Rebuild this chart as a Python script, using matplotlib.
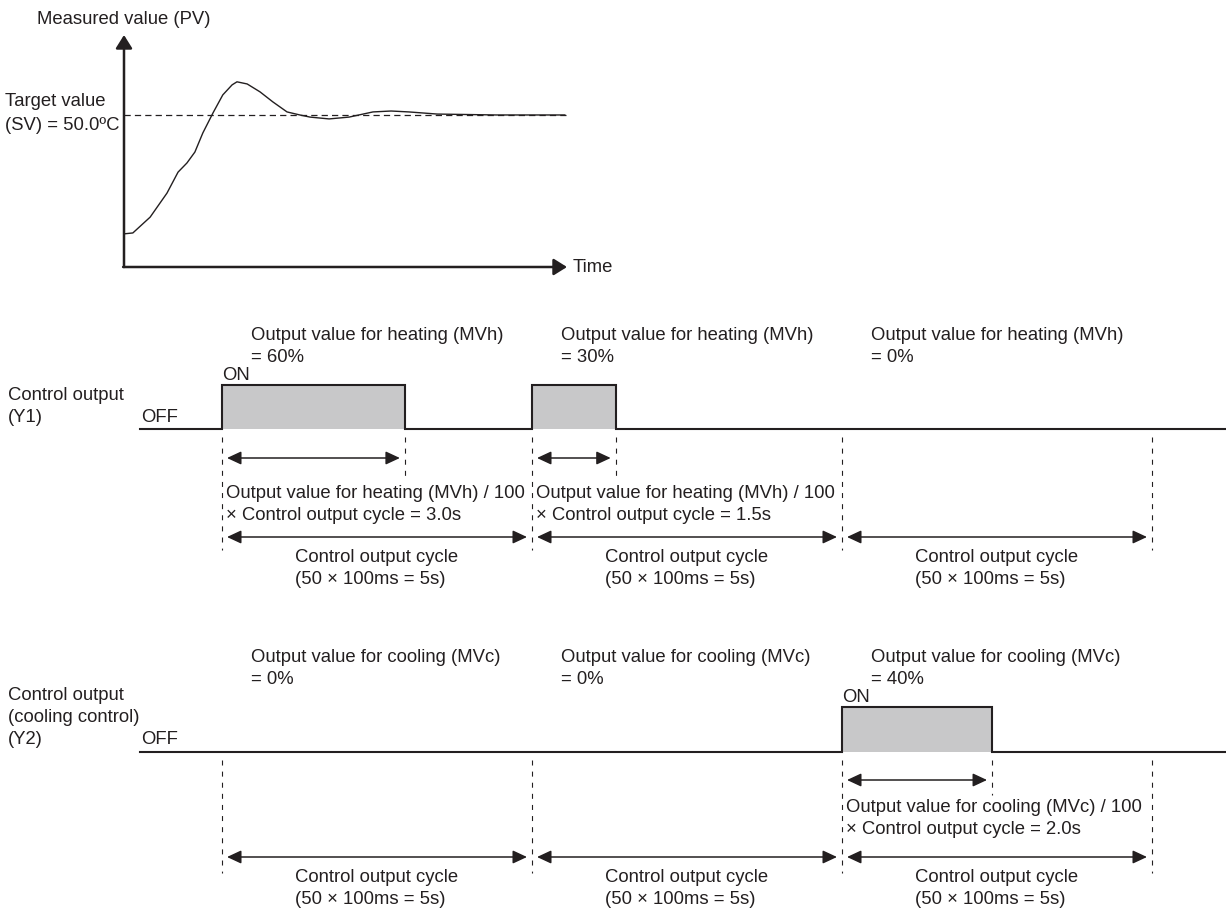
import numpy as np
import matplotlib
matplotlib.use('Agg')
import matplotlib.pyplot as plt
from matplotlib.patches import Rectangle

plt.rcParams['font.family'] = ['Liberation Sans', 'DejaVu Sans']

# ---------------- data ----------------
# Measured value (PV) response, time in arbitrary units (0-100), value in degC
pv_time = [0, 2.0, 5.9, 9.7, 12.2, 14.2, 16.0, 17.8, 20.1, 22.3, 24.4, 25.5, 27.8,
           30.7, 33.6, 36.8, 39.7, 42.0, 46.3, 50.8, 56.2, 60.3, 64.3, 70.7, 84.0, 99.5]
pv_value = [10.9, 11.2, 16.4, 24.3, 31.2, 34.2, 37.8, 44.1, 50.7, 56.6, 59.9, 60.9, 60.2,
            57.6, 54.3, 51.0, 50.0, 49.3, 48.7, 49.3, 51.0, 51.3, 51.0, 50.3, 50.0, 50.0]
sv_value = 50.0
pv_ymax = 76.3
pv_tmax = 100.0

cycle_s = 5.0
n_cycles = 3
heating_mv = ['60%', '30%', '0%']
cooling_mv = ['0%', '0%', '40%']
heating_on_s = [2.95, 1.35, 0.0]      # ON time as drawn
cooling_on_s = [0.0, 0.0, 2.42]
heating_on_text = ['3.0s', '1.5s', None]
cooling_on_text = [None, None, '2.0s']
cycle_text = ['Control output cycle', '(50 \u00d7 100ms = 5s)']

# ---------------- style / layout ----------------
W, H = 1226, 914
INK = '#231f20'
FILL = '#c8c8c9'
FS = 13.3
T0_PX = 222.0
PX_PER_S = 62.0

fig = plt.figure(figsize=(W / 100, H / 100), dpi=100)
fig.patch.set_facecolor('white')

lay = fig.add_axes([0, 0, 1, 1])
lay.set_xlim(0, W)
lay.set_ylim(H, 0)
lay.axis('off')

tax = fig.add_axes([0, 0, 1, 1])
tax.set_xlim((0 - T0_PX) / PX_PER_S, (W - T0_PX) / PX_PER_S)
tax.set_ylim(H, 0)
tax.axis('off')
tax.patch.set_alpha(0)


def s(px):
    return px / PX_PER_S


def txt(ax, x, y, t, ha='left', **kw):
    return ax.text(x, y, t, ha=ha, va='center', fontsize=FS, color=INK, **kw)


# ---------------- PV chart ----------------
pv_l, pv_r, pv_t, pv_b = 124, 567, 35, 267
pax = fig.add_axes([pv_l / W, 1 - pv_b / H, (pv_r - pv_l) / W, (pv_b - pv_t) / H])
pax.set_xlim(0, pv_tmax)
pax.set_ylim(0, pv_ymax)
pax.axis('off')
pax.patch.set_alpha(0)
pax.plot(pv_time, pv_value, color=INK, lw=1.0, solid_joinstyle='round', clip_on=False)
pax.plot([0, pv_tmax], [sv_value, sv_value], color=INK, lw=0.9,
         dashes=(5.0, 3.3), clip_on=False)
ax_arrow = dict(arrowstyle='-|>,head_length=0.4,head_width=0.25', mutation_scale=20,
                lw=1.8, color=INK, shrinkA=0, shrinkB=0)
pax.annotate('', xy=(0, 1), xytext=(0, 0), xycoords='axes fraction',
             textcoords='axes fraction', arrowprops=ax_arrow)
pax.annotate('', xy=(1, 0), xytext=(-0.002, 0), xycoords='axes fraction',
             textcoords='axes fraction', arrowprops=ax_arrow)

txt(lay, 37, 19, 'Measured value (PV)')
txt(lay, 5, 102, 'Target value')
txt(lay, 5, 126, '(SV) = 50.0\u00baC')
txt(lay, 573, 268, 'Time')

# ---------------- timing rows ----------------
rows = [
    dict(kind='heating', code='MVh', mv=heating_mv, on=heating_on_s, on_text=heating_on_text,
         base=429, top=385, dash_top=437, short_bot=477, long_bot=550,
         short_y=458, cycle_y=537, on_lbl=(493, 516), cyc_lbl=(557, 580),
         head=(335, 357), on_y=375, names=[('Control output', 396), ('(Y1)', 418)],
         off_y=418),
    dict(kind='cooling', code='MVc', mv=cooling_mv, on=cooling_on_s, on_text=cooling_on_text,
         base=752, top=707, dash_top=760, short_bot=795, long_bot=873,
         short_y=780, cycle_y=857, on_lbl=(807, 829), cyc_lbl=(878, 900),
         head=(657, 679), on_y=697,
         names=[('Control output', 696), ('(cooling control)', 718), ('(Y2)', 740)],
         off_y=740),
]

arrow2 = dict(arrowstyle='<|-|>,head_length=0.43,head_width=0.2', mutation_scale=20,
              lw=1.1, color=INK, shrinkA=0, shrinkB=0)
gap = s(5)
x_start = s(140 - T0_PX)
x_end = s(W - T0_PX)

fig.canvas.draw()
renderer = fig.canvas.get_renderer()

for r in rows:
    for name, y in r['names']:
        txt(lay, 8, y, name)
    txt(lay, 141, r['off_y'], 'OFF')

    xs, ys = [x_start], [r['base']]
    first_on = True
    for i in range(n_cycles):
        t0 = i * cycle_s
        on = r['on'][i]
        if on > 0:
            tax.add_patch(Rectangle((t0, r['top']), on, r['base'] - r['top'],
                                    facecolor=FILL, edgecolor='none', zorder=1))
            xs += [t0, t0, t0 + on, t0 + on]
            ys += [r['base'], r['top'], r['top'], r['base']]
            if first_on:
                txt(tax, t0, r['on_y'], 'ON')
                first_on = False
            # dashed end marker and short arrow
            tax.plot([t0 + on, t0 + on], [r['dash_top'], r['short_bot']], color=INK,
                     lw=0.8, dashes=(4.5, 5.5))
            tax.annotate('', xy=(t0 + gap, r['short_y']), xytext=(t0 + on - gap, r['short_y']),
                         arrowprops=arrow2)
            txt(tax, t0 + s(4), r['on_lbl'][0],
                'Output value for %s (%s) / 100' % (r['kind'], r['code']))
            txt(tax, t0 + s(4), r['on_lbl'][1],
                '\u00d7 Control output cycle = %s' % r['on_text'][i])
        # heading
        txt(tax, t0 + s(29), r['head'][0], 'Output value for %s (%s)' % (r['kind'], r['code']))
        txt(tax, t0 + s(29), r['head'][1], '= %s' % r['mv'][i])
        # cycle arrow
        tax.annotate('', xy=(t0 + gap, r['cycle_y']), xytext=(t0 + cycle_s - gap, r['cycle_y']),
                     arrowprops=arrow2)
        c = t0 + cycle_s / 2
        t1 = txt(tax, c, r['cyc_lbl'][0], cycle_text[0], ha='center')
        bb = t1.get_window_extent(renderer=renderer)
        left = tax.transData.inverted().transform((bb.x0, 0))[0]
        txt(tax, left, r['cyc_lbl'][1], cycle_text[1])
    xs.append(x_end)
    ys.append(r['base'])
    tax.plot(xs, ys, color=INK, lw=1.5, solid_joinstyle='miter', zorder=3)
    for k in range(n_cycles + 1):
        tk = k * cycle_s
        tax.plot([tk, tk], [r['dash_top'], r['long_bot']], color=INK, lw=0.8,
                 dashes=(4.5, 5.5))

fig.savefig('out.png', dpi=100, facecolor='white')
